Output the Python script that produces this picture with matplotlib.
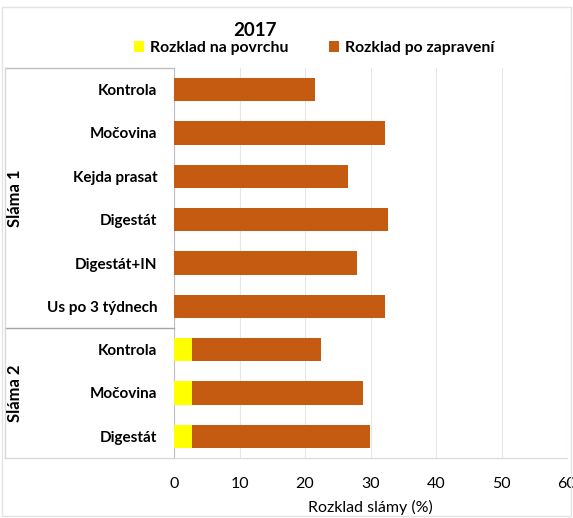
import matplotlib
matplotlib.use("Agg")
import matplotlib.pyplot as plt
from matplotlib.lines import Line2D
from matplotlib.patches import Rectangle

plt.rcParams['font.family'] = ['Lato', 'DejaVu Sans']

categories = ["Kontrola", "Močovina", "Kejda prasat", "Digestát", "Digestát+IN",
              "Us po 3 týdnech", "Kontrola", "Močovina", "Digestát"]
surface = [0, 0, 0, 0, 0, 0, 2.8, 2.8, 2.8]
incorporated = [21.5, 32.2, 26.5, 32.6, 28.0, 32.2, 19.7, 26.0, 27.1]
groups = ["Sláma 1", "Sláma 2"]
group_sizes = [6, 3]
x_ticks = [0, 10, 20, 30, 40, 50, 60]

yellow = "#FFFF00"
orange = "#C55A11"
grey = "#BFBFBF"

W, H = 573, 518
fig = plt.figure(figsize=(W / 100, H / 100), dpi=100)

left_px, right_px, top_px, bottom_px = 174, 567, 68, 458
ax = fig.add_axes([left_px / W, 1 - bottom_px / H,
                   (right_px - left_px) / W, (bottom_px - top_px) / H])

y = list(range(len(categories)))
ax.barh(y, surface, height=0.54, color=yellow, label="Rozklad na povrchu", zorder=3)
ax.barh(y, incorporated, left=surface, height=0.54, color=orange,
        label="Rozklad po zapravení", zorder=3)

ax.set_ylim(len(categories) - 0.5, -0.5)
ax.set_xlim(0, 60)
ax.set_xticks(x_ticks)
ax.set_yticks(y)
ax.set_yticklabels(categories, fontweight="bold", fontsize=11)
ax.tick_params(axis="y", length=0, pad=12)
ax.tick_params(axis="x", length=0, pad=14, labelsize=11.5)
ax.grid(axis="x", color="#E6E6E6", linewidth=0.8, zorder=0)
for s in ["top", "right"]:
    ax.spines[s].set_visible(False)
ax.spines["left"].set_color(grey)
ax.spines["bottom"].set_color("#D9D9D9")
ax.set_xlabel("Rozklad slámy (%)", fontsize=11.5, labelpad=6)

# group brackets on the category side
def hline(ypx, x0px, x1px, color=grey):
    fig.add_artist(Line2D([x0px / W, x1px / W], [1 - ypx / H, 1 - ypx / H],
                          color=color, linewidth=1.0, transform=fig.transFigure))

def vline(xpx, y0px, y1px, color=grey):
    fig.add_artist(Line2D([xpx / W, xpx / W], [1 - y0px / H, 1 - y1px / H],
                          color=color, linewidth=1.0, transform=fig.transFigure))

row_px = (bottom_px - top_px) / len(categories)
hline(top_px, 5, left_px)
start = 0
for name, n in zip(groups, group_sizes):
    y0 = top_px + start * row_px
    y1 = top_px + (start + n) * row_px
    hline(y1, 5, left_px, color="#A6A6A6" if start + n < len(categories) else "#D9D9D9")
    fig.text(15 / W, 1 - (y0 + y1) / 2 / H, name, rotation=90, ha="center",
             va="center", fontsize=12, fontweight="bold")
    start += n
vline(5, top_px, bottom_px, color="#D9D9D9")

# outer chart frame
fig.add_artist(Rectangle((2 / W, 2 / H), (W - 4) / W, (H - 9) / H, fill=False,
                         edgecolor="#E3E3E3", linewidth=1.0, transform=fig.transFigure))

fig.text(255 / W, 1 - 30 / H, "2017", ha="center", va="center", fontsize=13.5,
         fontweight="bold")
fig.legend(loc="center", bbox_to_anchor=(314 / W, 1 - 48 / H), ncol=2, frameon=False,
           prop={"size": 11.3, "weight": "bold"}, handlelength=0.65, handleheight=0.65,
           handletextpad=0.35, columnspacing=2.6, borderaxespad=0)

fig.savefig("out.png", dpi=100)
